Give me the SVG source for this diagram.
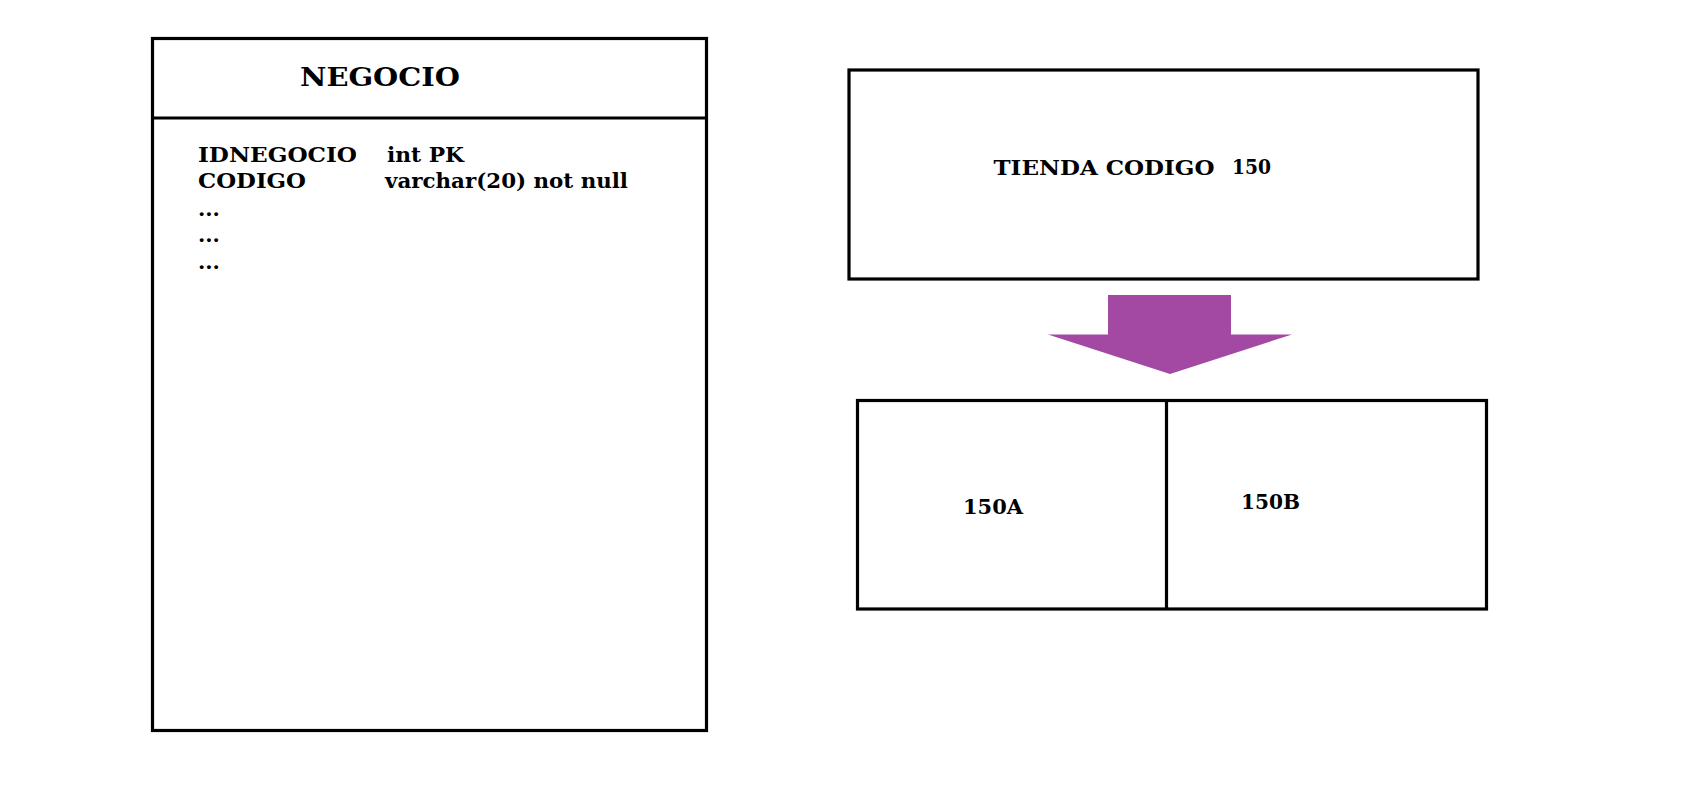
<svg xmlns="http://www.w3.org/2000/svg" width="1708" height="790" viewBox="0 0 1708 790">
<style>
.box{fill:#fff;stroke:#000;stroke-width:3.2}
.ln{stroke:#000;stroke-width:3.2}
.t{font-family:"DejaVu Serif","Liberation Serif",serif;font-weight:bold;font-size:21px;fill:#000}
.h{font-size:26px}
</style>
<rect width="1708" height="790" fill="#fff"/>
<g id="negocio">
<rect class="box" x="152.5" y="38.5" width="554" height="692"/>
<line class="ln" x1="152.5" y1="118" x2="706.5" y2="118"/>
<text class="t h" x="300" y="86" textLength="160" lengthAdjust="spacingAndGlyphs">NEGOCIO</text>
<text class="t" x="198" y="161.5" textLength="159" lengthAdjust="spacingAndGlyphs">IDNEGOCIO</text>
<text class="t" x="387" y="161.5" textLength="77" lengthAdjust="spacingAndGlyphs">int PK</text>
<text class="t" x="198" y="188" textLength="108" lengthAdjust="spacingAndGlyphs">CODIGO</text>
<text class="t" x="385" y="188" textLength="243" lengthAdjust="spacingAndGlyphs">varchar(20) not null</text>
<text class="t" x="198" y="215.5">...</text>
<text class="t" x="198" y="242">...</text>
<text class="t" x="198" y="269">...</text>
</g>
<g id="tienda">
<rect class="box" x="849" y="70" width="629" height="209"/>
<text class="t" x="993.5" y="175" textLength="221" lengthAdjust="spacingAndGlyphs">TIENDA CODIGO</text>
<text class="t" x="1232" y="173.5" textLength="39" lengthAdjust="spacingAndGlyphs">150</text>
</g>
<g id="connectors">
<polygon points="1108,295 1231,295 1231,334.5 1292,334.5 1170,374 1048,334.5 1108,334.5" fill="#A349A4"/>
</g>
<g id="partes">
<rect class="box" x="857.5" y="400.5" width="629" height="208.5"/>
<line class="ln" x1="1166.5" y1="400.5" x2="1166.5" y2="609"/>
<text class="t" x="963" y="513.5" textLength="60" lengthAdjust="spacingAndGlyphs">150A</text>
<text class="t" x="1241" y="508.5" textLength="59" lengthAdjust="spacingAndGlyphs">150B</text>
</g>
</svg>
